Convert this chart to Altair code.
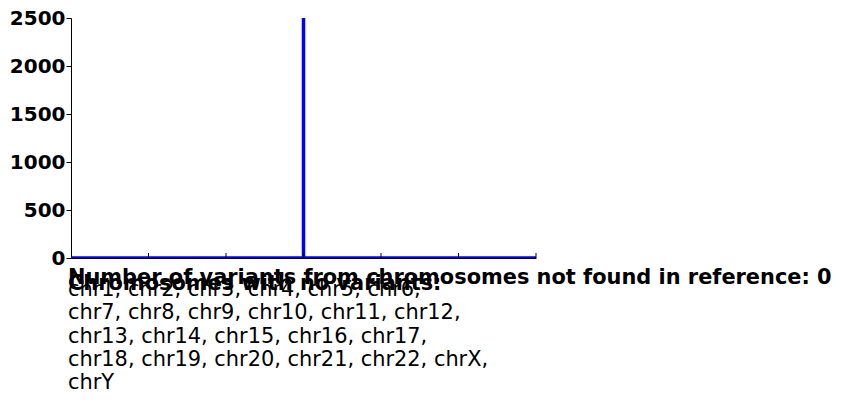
import altair as alt
import pandas as pd

# Histogram-like trace: flat at zero with a single spike at the centre
trace_x = [-3, 0, 0, 0, 3]
trace_y = [0, 0, 2500, 0, 0]
trace_order = [0, 1, 2, 3, 4]

x_ticks = [-3, -2, -1, 0, 1, 2, 3]
y_ticks = [0, 500, 1000, 1500, 2000, 2500]

not_found_count = 0
missing_chrom_lines = [
    "chr1, chr2, chr3, chr4, chr5, chr6,",
    "chr7, chr8, chr9, chr10, chr11, chr12,",
    "chr13, chr14, chr15, chr16, chr17,",
    "chr18, chr19, chr20, chr21, chr22, chrX,",
    "chrY",
]

W, H = 465, 240
FONT = "DejaVu Sans"

df = pd.DataFrame({"x": trace_x, "y": trace_y, "o": trace_order})
ticks_df = pd.DataFrame({"x": x_ticks[1:]})

xscale = alt.Scale(domain=[-3, 3], nice=False, zero=False)
yscale = alt.Scale(domain=[0, 2500], nice=False)

line = alt.Chart(df).mark_line(color="#0000ff", strokeWidth=3.5, clip=True).encode(
    x=alt.X("x:Q", scale=xscale,
            axis=alt.Axis(title=None, labels=False, ticks=False, grid=False,
                          domainColor="#000000", domainWidth=1, values=x_ticks)),
    y=alt.Y("y:Q", scale=yscale,
            axis=alt.Axis(title=None, grid=False, values=y_ticks, format="d",
                          labelFont=FONT, labelFontSize=20, labelFontWeight="bold",
                          labelColor="#000000", labelPadding=1,
                          tickSize=5, tickColor="#000000", domainColor="#000000",
                          domainWidth=1)),
    order="o:Q",
)

inner_ticks = alt.Chart(ticks_df).mark_rule(color="#000000", strokeWidth=1).encode(
    x=alt.X("x:Q", scale=xscale),
    y=alt.value(H),
    y2=alt.value(H - 5),
)

text_df = pd.DataFrame({
    "label": [
        f"Number of variants from chromosomes not found in reference: {not_found_count}",
        "Chromosomes with no variants:",
        "\n".join(missing_chrom_lines),
    ],
    "yy": [266, 272, 278],
    "w": ["bold", "bold", "normal"],
})

def text_layer(i):
    row = text_df.iloc[[i]]
    return alt.Chart(row).mark_text(
        align="left", baseline="alphabetic", font=FONT, fontSize=20.9,
        fontWeight=row["w"].iloc[0], color="#000000", lineBreak="\n", lineHeight=23.3,
    ).encode(
        x=alt.value(-3),
        y=alt.value(int(row["yy"].iloc[0])),
        text="label:N",
    )

chart = alt.layer(
    line, inner_ticks, text_layer(0), text_layer(1), text_layer(2)
).properties(
    width=W, height=H,
    padding={"left": 1, "top": 0, "right": 0, "bottom": 0},
).configure_view(stroke=None)

chart.save("out.html", embed_options={"renderer": "svg", "actions": False})
